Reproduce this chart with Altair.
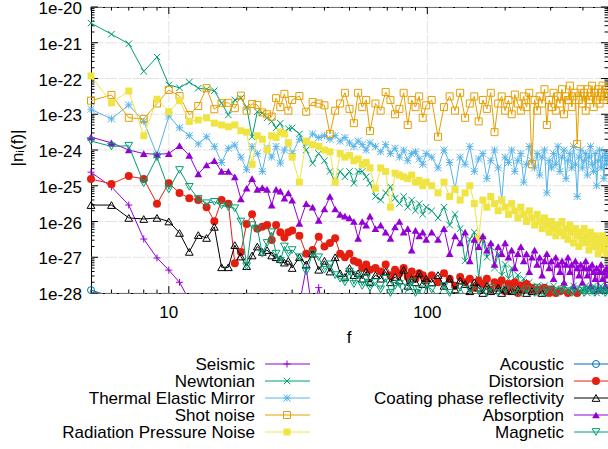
import altair as alt
import pandas as pd

# ---------------------------------------------------------------- data
# frequency grid (Hz) shared by most curves
FREQ = (list(range(5, 31)) + list(range(32, 61, 2))
        + list(range(63, 100, 3)) + list(range(104, 501, 6)))

# all values below are log10 |n_i(f)|
seismic_f = [5, 6, 7, 8, 9, 10, 11, 12, 13, 14,
             16, 20, 25, 30, 34, 36, 38, 40, 42, 50,
             70, 100, 150, 200, 300, 400, 490, 494, 500]
seismic_log = [-24.62, -25.03, -25.54, -26.49, -27.02, -27.36, -27.7, -28.2, -28.6, -28.9,
               -29.2, -29.5, -29.6, -29.4, -27.3, -28.6, -27.85, -28.7, -29.2, -29.5,
               -29.6, -29.7, -29.6, -29.8, -29.7, -29.6, -29.5, -27.85, -29.3]

acoustic_f = [5, 6, 7, 8, 10, 20, 50, 100, 200, 500]
acoustic_log = [-27.92, -28.1, -28.6, -29.0, -29.4, -29.7, -29.9, -30.0, -30.0, -30.0]

newtonian_log = [
    -20.45, -20.76, -21.03, -21.8, -21.4, -22.18, -22.26, -22.1, -22.27, -22.3,
    -22.34, -22.69, -23.02, -22.6, -22.55, -22.8, -23.63, -22.93, -22.96, -23.1,
    -23.2, -23.38, -23.25, -23.5, -23.4, -23.38,
    -23.55, -24.0, -24.37, -24.1, -24.3, -24.6, -24.9, -24.6, -24.75, -24.6,
    -24.93, -24.6, -24.6, -24.75, -24.93,
    -25.3, -25.4, -25.2, -25.03, -25.35, -25.5, -25.3, -25.6, -25.4, -25.7,
    -25.5, -25.8, -25.6,
    -25.7, -25.9, -25.6, -26.1, -25.8, -26.2, -27.1, -26.5, -26.3, -27.6,
    -26.5, -27.0, -26.7, -27.3, -26.9, -27.5, -27.2, -27.6, -27.3, -27.8,
    -27.5, -27.9, -27.6, -28.1, -27.7, -27.9, -28.2, -27.8, -28.0, -28.3,
    -27.8, -28.1, -27.9, -28.3, -27.8, -28.0, -28.2, -27.9, -28.4, -27.8,
    -28.1, -27.9, -28.3, -28.0, -27.8, -28.2, -27.9, -28.1, -28.4, -27.9,
    -28.2, -27.8, -28.0, -28.3, -27.9, -28.1, -27.8, -28.2, -28.0, -27.9,
    -28.3, -27.8, -28.1, -27.9, -28.2, -27.8, -28.0]

thermal_log = [
    -22.86, -23.13, -22.74, -23.2, -24.14, -23.05, -23.38, -23.6, -23.83, -23.63,
    -23.9, -24.35, -23.95, -23.86, -24.2, -24.55, -23.9, -24.1, -24.6, -23.95,
    -24.2, -23.9, -24.37, -24.0, -23.8, -24.1,
    -23.7, -23.8, -23.55, -23.65, -23.6, -23.7, -23.6, -23.75, -23.65, -23.8,
    -23.9, -23.75, -23.85, -24.0, -23.8,
    -23.9, -24.05, -23.85, -24.1, -23.95, -24.2, -24.0, -24.3, -24.1, -24.05,
    -24.25, -24.4, -24.1,
    -24.2, -24.5, -24.0, -24.35, -25.1, -24.2, -24.4, -23.9, -24.6, -24.25,
    -24.1, -24.8, -24.3, -24.0, -24.5, -25.4, -24.2, -24.35, -24.0, -24.6,
    -24.3, -24.1, -24.9, -24.4, -23.9, -24.3, -24.5, -24.1, -24.7, -24.2,
    -24.0, -25.2, -24.3, -24.5, -24.1, -24.4, -23.9, -24.6, -24.2, -24.0,
    -24.8, -24.3, -24.1, -24.5, -23.9, -24.4, -25.3, -24.2, -24.0, -24.5,
    -24.3, -24.1, -24.7, -24.2, -23.9, -24.4, -24.6, -24.1, -25.0, -24.3,
    -24.0, -24.5, -24.2, -24.8, -24.1, -24.4, -24.2]

shot_log = [
    -22.62, -22.46, -23.1, -23.13, -22.7, -22.32, -22.49, -23.02, -22.77, -22.27,
    -22.86, -22.69, -22.68, -22.83, -22.48, -22.9, -22.71, -22.74, -22.95, -23.0,
    -23.07, -22.55, -22.8, -22.43, -22.9, -22.6,
    -22.49, -22.93, -22.66, -22.7, -22.75, -23.55, -22.9, -22.7, -22.4, -22.85,
    -23.25, -22.4, -22.8, -22.6, -23.47,
    -22.7, -22.9, -22.38, -22.6, -23.0, -22.85, -22.4, -23.3, -22.6, -22.8,
    -22.5, -23.1, -22.75,
    -22.6, -23.63, -22.8, -22.5, -22.9, -22.4, -23.1, -22.7, -22.5, -23.2,
    -22.6, -22.85, -22.4, -23.5, -22.7, -22.5, -22.9, -22.6, -23.0, -22.45,
    -22.7, -22.9, -22.5, -22.8, -22.4, -24.4, -22.6, -22.9, -22.5, -22.7,
    -22.3, -23.3, -22.6, -22.8, -22.4, -22.9, -22.5, -22.7, -22.3, -23.0,
    -22.5, -22.6, -22.2, -22.8, -22.5, -22.4, -23.83, -22.6, -22.3, -22.7,
    -22.4, -22.9, -22.3, -22.6, -22.5, -22.2, -22.8, -22.4, -22.6, -22.3,
    -22.7, -22.4, -22.2, -22.6, -22.5, -22.3, -22.5]

radiation_log = [
    -21.93, -22.68, -22.35, -23.6, -22.58, -22.93, -22.62, -23.2, -23.16, -23.1,
    -23.25, -23.3, -23.35, -23.3, -23.46, -23.5, -24.4, -23.6, -23.7, -24.0,
    -23.6, -23.65, -23.5, -23.55, -23.8, -24.2,
    -24.9, -23.75, -23.85, -23.9, -24.0, -24.05, -24.9, -24.1, -24.2, -24.15,
    -24.3, -24.25, -24.4, -24.35, -24.5,
    -25.07, -24.5, -24.6, -25.6, -24.65, -24.7, -24.75, -24.8, -24.7, -24.9,
    -24.85, -25.0, -24.9,
    -25.0, -25.2, -24.9, -25.3, -25.1, -25.4, -25.2, -25.0, -25.5, -26.47,
    -25.4, -25.6, -25.3, -25.5, -25.7, -25.4, -25.6, -25.8, -25.5, -25.7,
    -25.9, -25.6, -25.8, -26.0, -25.7, -25.9, -26.1, -25.8, -26.0, -26.2,
    -25.9, -26.1, -26.3, -26.0, -26.2, -26.4, -26.1, -26.3, -26.0, -26.4,
    -26.2, -26.5, -26.1, -26.3, -26.6, -26.2, -26.4, -26.7, -26.3, -26.5,
    -26.2, -26.6, -26.4, -26.8, -26.3, -26.5, -26.7, -26.4, -26.6, -26.9,
    -26.5, -26.7, -26.4, -26.8, -26.6, -26.9, -26.5]

distorsion_log = [
    -24.81, -24.95, -24.73, -24.81, -25.5, -24.93, -25.2, -25.35, -25.4, -25.6,
    -25.99, -25.4, -25.5, -27.17, -26.85, -26.07, -25.8, -26.2, -26.15, -26.1,
    -26.52, -26.1, -26.3, -26.45, -26.3, -26.25,
    -26.4, -26.9, -26.8, -26.43, -26.7, -26.6, -26.47, -26.9, -27.0, -26.9,
    -27.1, -27.15, -27.3, -27.2, -27.35,
    -27.3, -27.4, -27.2, -27.5, -27.35, -27.45, -27.3, -27.55, -27.4, -27.6,
    -27.45, -27.5, -27.65,
    -27.5, -27.7, -27.45, -27.6, -27.8, -27.55, -27.7, -27.6, -27.85, -27.65,
    -27.75, -27.6, -27.9, -27.7, -27.8, -27.65, -27.95, -27.75, -27.85, -27.7,
    -28.0, -27.8, -27.9, -27.75, -28.1, -27.85, -27.95, -28.2, -27.9, -28.05,
    -27.85, -28.2, -28.0, -27.9, -28.3, -28.0, -28.15, -27.95, -28.3, -28.1,
    -28.4, -28.0, -28.2, -28.5, -28.1, -28.3, -28.0, -28.4, -28.2, -28.6,
    -28.3, -28.1, -28.5, -28.3, -28.6, -28.2, -28.4, -28.7, -28.3, -28.5,
    -28.2, -28.6, -28.4, -28.7, -28.3, -28.5, -28.4]

coating_log = [
    -25.54, -25.54, -25.9, -25.93, -25.9, -26.0, -26.32, -26.85, -26.38, -26.46,
    -26.15, -27.28, -27.28, -26.66, -26.98, -27.25, -26.95, -26.7, -26.85, -26.8,
    -26.95, -27.0, -27.05, -27.15, -27.1, -27.3,
    -27.0, -27.2, -26.9, -27.35, -27.1, -27.4, -27.0, -27.45, -27.55, -27.3,
    -27.5, -27.45, -27.6, -27.4, -27.7,
    -27.5, -27.6, -27.4, -27.7, -27.55, -27.65, -27.35, -27.8, -27.6, -27.7,
    -27.45, -27.75, -27.6,
    -27.7, -27.5, -27.8, -27.6, -27.9, -27.65, -27.75, -27.95, -27.7, -27.85,
    -28.0, -27.8, -27.95, -28.1, -27.85, -28.0, -27.9, -28.15, -27.95, -28.2,
    -27.9, -28.1, -28.3, -28.0, -28.2, -27.95, -28.4, -28.1, -28.3, -28.0,
    -28.5, -28.2, -28.4, -28.6, -28.2, -28.5, -28.3, -28.7, -28.4, -28.6,
    -28.3, -28.8, -28.5, -28.7, -28.4, -28.9, -28.6, -28.8, -28.5, -28.9,
    -28.7, -29.0, -28.6, -28.9, -28.7, -29.1, -28.8, -29.0, -28.7, -29.1,
    -28.9, -29.2, -28.8, -29.0, -29.1, -28.9, -29.2]

absorption_log = [
    -23.64, -23.8, -24.0, -24.1, -24.12, -24.1, -23.88, -24.15, -24.67, -24.42,
    -24.3, -24.6, -24.6, -24.75, -25.37, -25.07, -24.8, -25.1, -25.05, -25.1,
    -25.54, -25.1, -25.15, -25.35, -25.2, -25.4,
    -26.05, -25.5, -25.6, -25.97, -25.65, -25.3, -25.65, -25.8, -25.85, -25.9,
    -26.0, -26.47, -26.0, -26.1, -25.85,
    -26.2, -26.1, -26.3, -26.47, -26.15, -26.0, -26.3, -26.2, -26.8, -26.25,
    -26.4, -26.3, -26.5,
    -26.3, -26.5, -26.2, -26.9, -26.4, -26.6, -26.3, -27.1, -26.5, -26.7,
    -26.4, -26.8, -26.6, -27.2, -26.7, -26.9, -26.6, -27.0, -26.8, -27.3,
    -26.9, -26.7, -27.1, -26.9, -27.4, -27.0, -26.8, -27.2, -27.0, -27.5,
    -27.1, -26.9, -27.3, -27.1, -27.6, -27.0, -27.2, -27.4, -27.1, -27.7,
    -27.2, -27.0, -27.4, -27.2, -27.8, -27.1, -27.3, -27.5, -27.2, -27.7,
    -27.3, -27.1, -27.5, -27.3, -27.8, -27.2, -27.4, -27.6, -27.3, -27.9,
    -27.4, -27.2, -27.6, -27.4, -27.8, -27.3, -27.5]

magnetic_log = [
    -23.75, -23.9, -23.88, -24.93, -24.2, -25.1, -24.56, -25.03, -25.37, -25.49,
    -25.45, -25.55, -25.6, -25.63, -26.0, -27.25, -26.1, -26.2, -26.9, -26.6,
    -26.3, -26.9, -27.1, -26.7, -26.9, -26.8,
    -27.0, -27.4, -26.9, -27.0, -27.35, -27.2, -27.5, -27.6, -27.7, -27.4,
    -27.75, -27.5, -27.8, -27.6, -27.85,
    -27.7, -27.9, -27.6, -28.0, -27.8, -27.75, -28.1, -27.85, -27.7, -28.0,
    -27.9, -28.2, -27.8,
    -27.9, -28.1, -27.8, -28.0, -28.3, -27.85, -28.1, -27.9, -28.2, -27.95,
    -28.4, -28.0, -27.85, -28.2, -28.0, -28.5, -27.9, -28.1, -28.3, -27.95,
    -28.2, -28.0, -28.4, -27.9, -28.1, -28.3, -28.0, -27.85, -28.2, -28.4,
    -28.0, -27.9, -28.3, -28.1, -27.95, -28.4, -28.0, -28.2, -27.9, -28.3,
    -28.1, -27.95, -28.4, -28.0, -28.2, -27.9, -28.3, -28.1, -27.95, -28.5,
    -28.0, -28.2, -27.9, -28.3, -28.1, -27.95, -28.4, -28.0, -28.2, -27.9,
    -28.3, -28.1, -27.95, -28.4, -28.0, -28.2, -27.9]

# axis ticks and tick labels
X_MAJOR = [10, 100]
X_MAJOR_LABELS = ["10", "100"]
X_MINOR = [5, 6, 7, 8, 9, 20, 30, 40, 50, 60, 70, 80, 90, 200, 300, 400, 500]
Y_DECADES = [-28, -27, -26, -25, -24, -23, -22, -21, -20]
Y_LABELS = ["1e-28", "1e-27", "1e-26", "1e-25", "1e-24", "1e-23", "1e-22", "1e-21", "1e-20"]
Y_MINOR_MULT = [2, 3, 4, 5, 6, 7, 8, 9]
X_TITLE = "f"
Y_TITLE = "|nᵢ(f)|"

# ---------------------------------------------------------------- style
W, H = 517, 286
FONT = "Liberation Sans"
FS = 17
GRID_COLOR = "#e3e3e3"
X_SCALE = alt.Scale(type="log", domain=[5, 500], nice=False)
Y_SCALE = alt.Scale(type="log", domain=[1e-28, 1e-20], nice=False)

PLUS = "M-1,0H1M0,-1V1"
CROSS = "M-1,-1L1,1M-1,1L1,-1"
STAR = PLUS + CROSS

series = [
    ("Seismic", seismic_f, seismic_log, "#9400d3", PLUS, False, 49),
    ("Newtonian", FREQ, newtonian_log, "#009e73", CROSS, False, 42),
    ("Thermal Elastic Mirror", FREQ, thermal_log, "#56b4e9", STAR, False, 49),
    ("Shot noise", FREQ, shot_log, "#e69f00", "square", False, 49),
    ("Radiation Pressure Noise", FREQ, radiation_log, "#f0e442", "square", True, 49),
    ("Acoustic", acoustic_f, acoustic_log, "#0072b2", "circle", False, 49),
    ("Distorsion", FREQ, distorsion_log, "#e51e10", "circle", True, 64),
    ("Coating phase reflectivity", FREQ, coating_log, "#000000", "triangle-up", False, 60),
    ("Absorption", FREQ, absorption_log, "#9400d3", "triangle-up", True, 60),
    ("Magnetic", FREQ, magnetic_log, "#009e73", "triangle-down", False, 60),
]

y_major_vals = [10.0 ** e for e in Y_DECADES]
y_minor_vals = [m * 10.0 ** e for e in Y_DECADES[:-1] for m in Y_MINOR_MULT]

layers = []


def xq(field):
    return alt.X(f"{field}:Q", scale=X_SCALE, axis=None)


def yq(field):
    return alt.Y(f"{field}:Q", scale=Y_SCALE, axis=None)


# ---------------------------------------------------------------- grid
layers.append(
    alt.Chart(pd.DataFrame({"t": X_MAJOR}))
    .mark_rule(color=GRID_COLOR, strokeWidth=1, strokeDash=[12, 2])
    .encode(x=xq("t"), y=alt.value(0), y2=alt.value(H))
)
layers.append(
    alt.Chart(pd.DataFrame({"t": y_major_vals}))
    .mark_rule(color=GRID_COLOR, strokeWidth=1, strokeDash=[12, 2])
    .encode(y=yq("t"), x=alt.value(0), x2=alt.value(W))
)


# ---------------------------------------------------------------- ticks
def tick_layer(vals, channel, side, length):
    df = pd.DataFrame({"t": vals})
    if channel == "x":
        enc = dict(x=xq("t"))
        if side == "bottom":
            enc.update(y=alt.value(H), y2=alt.value(H - length))
        else:
            enc.update(y=alt.value(0), y2=alt.value(length))
    else:
        enc = dict(y=yq("t"))
        if side == "left":
            enc.update(x=alt.value(0), x2=alt.value(length))
        else:
            enc.update(x=alt.value(W), x2=alt.value(W - length))
    return alt.Chart(df).mark_rule(color="black", strokeWidth=1).encode(**enc)


layers.append(tick_layer(X_MAJOR, "x", "bottom", 7))
layers.append(tick_layer(X_MAJOR, "x", "top", 7))
layers.append(tick_layer(X_MINOR, "x", "bottom", 3.5))
layers.append(tick_layer(X_MINOR, "x", "top", 3.5))
layers.append(tick_layer(y_major_vals, "y", "left", 7))
layers.append(tick_layer(y_major_vals, "y", "right", 7))
layers.append(tick_layer(y_minor_vals, "y", "left", 3.5))
layers.append(tick_layer(y_minor_vals, "y", "right", 3.5))

# tick labels
layers.append(
    alt.Chart(pd.DataFrame({"t": X_MAJOR, "label": X_MAJOR_LABELS}))
    .mark_text(align="center", baseline="top", font=FONT, fontSize=FS, color="black")
    .encode(x=xq("t"), y=alt.value(H + 12), text="label:N")
)
layers.append(
    alt.Chart(pd.DataFrame({"t": y_major_vals, "label": Y_LABELS}))
    .mark_text(align="right", baseline="middle", font=FONT, fontSize=FS,
               color="black", dy=2)
    .encode(y=yq("t"), x=alt.value(-9), text="label:N")
)

# axis titles
layers.append(
    alt.Chart(pd.DataFrame({"label": [X_TITLE]}))
    .mark_text(align="center", baseline="alphabetic", font=FONT, fontSize=FS, color="black")
    .encode(x=alt.value(258), y=alt.value(336), text="label:N")
)
layers.append(
    alt.Chart(pd.DataFrame({"label": [Y_TITLE]}))
    .mark_text(align="center", baseline="middle", font=FONT, fontSize=FS,
               color="black", angle=270)
    .encode(x=alt.value(-73), y=alt.value(141), text="label:N")
)

# ---------------------------------------------------------------- curves
for name, fs, logs, color, shape, filled, size in series:
    if len(fs) != len(logs):
        raise ValueError(f"{name}: {len(fs)} freqs vs {len(logs)} values")
    df = pd.DataFrame({"f": fs, "e": logs})
    df["v"] = 10.0 ** df["e"]
    base = alt.Chart(df).encode(x=xq("f"), y=yq("v"))
    layers.append(base.mark_line(color=color, strokeWidth=1, clip=True))
    layers.append(
        base.transform_filter("datum.e >= -28.02 && datum.e <= -19.98")
        .mark_point(shape=shape, filled=filled, size=size, color=color,
                    strokeWidth=1, opacity=1)
    )

# ---------------------------------------------------------------- legend
LEG_ROWS = [357, 374, 391, 408, 425]
LEG_COLS = [
    {"text": 164, "line": (174, 219), "mark": 196},
    {"text": 473, "line": (483, 528), "mark": 505},
]
for i, (name, fs, logs, color, shape, filled, size) in enumerate(series):
    col = LEG_COLS[i // 5]
    ry = LEG_ROWS[i % 5]
    ldf = pd.DataFrame({"name": [name]})
    layers.append(
        alt.Chart(ldf).mark_text(align="right", baseline="middle", font=FONT,
                                 fontSize=FS, color="black")
        .encode(x=alt.value(col["text"]), y=alt.value(ry + 1), text="name:N")
    )
    layers.append(
        alt.Chart(ldf).mark_rule(color=color, strokeWidth=1)
        .encode(x=alt.value(col["line"][0]), x2=alt.value(col["line"][1]),
                y=alt.value(ry))
    )
    layers.append(
        alt.Chart(ldf).mark_point(shape=shape, filled=filled, size=size,
                                  color=color, strokeWidth=1, opacity=1)
        .encode(x=alt.value(col["mark"]), y=alt.value(ry))
    )

chart = (
    alt.layer(*layers)
    .properties(
        width=W, height=H,
        autosize=alt.AutoSizeParams(type="none"),
        padding={"left": 91, "top": 7, "right": 0, "bottom": 156},
    )
    .configure(background="white")
    .configure_view(stroke="black", strokeWidth=1)
)

chart.save("out.html", embed_options={"renderer": "svg", "actions": False})
